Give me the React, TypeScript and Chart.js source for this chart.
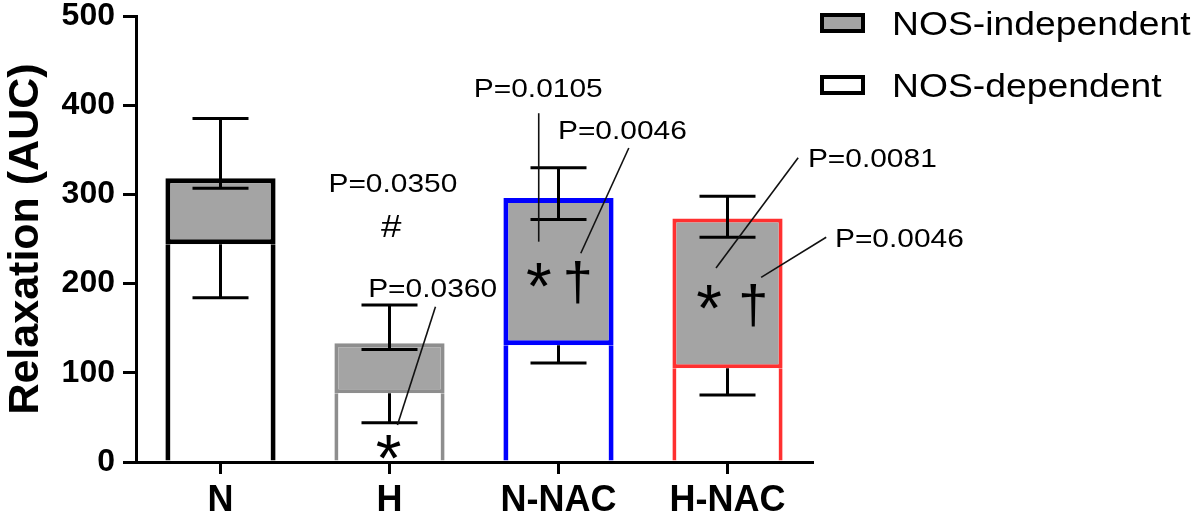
import React, { useEffect, useRef } from 'react';
import { Chart, registerables } from 'chart.js';

Chart.register(...registerables);

// ---------- data ----------
const categories = ['N', 'H', 'N-NAC', 'H-NAC'];
const seriesLabels = ['NOS-independent', 'NOS-dependent'];
const nosDependent = [244, 77, 131, 105];
const nosIndependent = [74, 56, 165, 168];
const errUpperCap = [385, 176, 330, 298];
const errMidCap = [307, 126, 272, 252];
const errLowerCap = [184, 44, 111, 75];
const yAxisTitle = 'Relaxation (AUC)';
const yMin = 0;
const yMax = 500;
const yStep = 100;

// P-value labels (x = category index, y = axis value)
const pLabels = ['P=0.0350', 'P=0.0360', 'P=0.0105', 'P=0.0046', 'P=0.0081', 'P=0.0046'];
const pLabelX = [1.02, 1.255, 1.88, 2.378, 3.857, 4.017];
const pLabelY = [313, 195, 419, 372, 341, 251];
// significance marks
const markSymbols = ['#', '*', '*', '†', '*', '†'];
const markX = [1.01, 0.994, 1.883, 2.114, 2.891, 3.152];
const markY = [265, 17, 210, 201, 185, 176];
// leader lines
const leaderX1 = [1.272, 1.883, 2.416, 3.418, 3.584];
const leaderY1 = [174, 391, 352, 341, 252];
const leaderX2 = [1.047, 1.883, 2.132, 2.932, 3.199];
const leaderY2 = [41.5, 247, 234, 217.5, 207];

// ---------- styles ----------
const FONT = "'Liberation Sans', Arial, sans-serif";
const barBorderColors = ['#000000', '#8e8e8e', '#0000ff', '#ff3030'];
const barBorderWidths = [5, 4, 5, 4];
const greyFill = '#a4a4a4';
const textStretch = 1.15;

function drawInkCentered(ctx: CanvasRenderingContext2D, text: string, x: number, y: number, font: string, stretch: number) {
  ctx.save();
  ctx.font = font;
  ctx.textAlign = 'center';
  ctx.textBaseline = 'alphabetic';
  const m = ctx.measureText(text);
  const asc = m.actualBoundingBoxAscent;
  const desc = m.actualBoundingBoxDescent;
  ctx.translate(x, y + (asc - desc) / 2);
  ctx.scale(stretch, 1);
  ctx.fillStyle = '#000';
  ctx.fillText(text, 0, 0);
  ctx.restore();
}

const overlayPlugin = {
  id: 'overlay',
  afterDatasetsDraw(chart: any) {
    const ctx: CanvasRenderingContext2D = chart.ctx;
    const xs = chart.scales.x;
    const ys = chart.scales.y;
    const px = (v: number) => xs.getPixelForValue(v);
    const py = (v: number) => ys.getPixelForValue(v);

    // error bars
    ctx.save();
    ctx.strokeStyle = '#000';
    ctx.lineWidth = 3;
    ctx.lineCap = 'butt';
    const capHalf = 28;
    categories.forEach((_, i) => {
      const x = px(i);
      const yU = py(errUpperCap[i]);
      const yM = py(errMidCap[i]);
      const yW = py(nosDependent[i]);
      const yL = py(errLowerCap[i]);
      ctx.beginPath();
      ctx.moveTo(x, yU); ctx.lineTo(x, yM);
      ctx.moveTo(x - capHalf, yU); ctx.lineTo(x + capHalf, yU);
      ctx.moveTo(x - capHalf, yM); ctx.lineTo(x + capHalf, yM);
      ctx.moveTo(x, yW); ctx.lineTo(x, yL);
      ctx.moveTo(x - capHalf, yL); ctx.lineTo(x + capHalf, yL);
      ctx.stroke();
    });
    ctx.restore();

    // leader lines
    ctx.save();
    ctx.strokeStyle = '#111';
    ctx.lineWidth = 1.6;
    leaderX1.forEach((_, i) => {
      ctx.beginPath();
      ctx.moveTo(px(leaderX1[i]), py(leaderY1[i]));
      ctx.lineTo(px(leaderX2[i]), py(leaderY2[i]));
      ctx.stroke();
    });
    ctx.restore();

    // P labels
    pLabels.forEach((t, i) => {
      drawInkCentered(ctx, t, px(pLabelX[i]), py(pLabelY[i]), `26px ${FONT}`, textStretch);
    });
    // marks
    markSymbols.forEach((s, i) => {
      const size = s === '#' ? 32 : s === '†' ? 54 : 66;
      drawInkCentered(ctx, s, px(markX[i]), py(markY[i]), `${size}px ${FONT}`, s === '#' ? textStretch : 1);
    });

    // legend boxes
    const area = chart.chartArea;
    const fills = [greyFill, '#ffffff'];
    ctx.save();
    seriesLabels.forEach((_, i) => {
      const cy = area.top + 7 + i * 62;
      const bx = area.right + 8;
      ctx.fillStyle = '#000';
      ctx.fillRect(bx, cy - 10, 45, 20);
      ctx.fillStyle = fills[i];
      ctx.fillRect(bx + 4, cy - 6, 37, 12);
    });
    ctx.restore();
  },
};

// Legend text drawn left aligned
const legendTextPlugin = {
  id: 'legendText',
  afterDraw(chart: any) {
    const ctx: CanvasRenderingContext2D = chart.ctx;
    const area = chart.chartArea;
    seriesLabels.forEach((lab, i) => {
      const cy = area.top + 7 + i * 62;
      ctx.save();
      ctx.font = `33px ${FONT}`;
      ctx.textAlign = 'left';
      ctx.textBaseline = 'alphabetic';
      const m = ctx.measureText('NOS');
      ctx.translate(area.right + 80, cy + m.actualBoundingBoxAscent / 2);
      ctx.scale(1.13, 1);
      ctx.fillStyle = '#000';
      ctx.fillText(lab, 0, 0);
      ctx.restore();
    });
  },
};

export default function App() {
  const ref = useRef<HTMLCanvasElement | null>(null);
  useEffect(() => {
    if (!ref.current) return;
    Chart.defaults.font.family = FONT;
    const chart = new Chart(ref.current, {
      type: 'bar',
      data: {
        labels: categories,
        datasets: [
          {
            label: seriesLabels[1],
            data: nosDependent,
            backgroundColor: '#ffffff',
            borderColor: barBorderColors,
            borderWidth: (c: any) => {
              const w = barBorderWidths[c.dataIndex] ?? 4;
              return { top: 0, bottom: 0, left: w, right: w };
            },
            borderSkipped: false,
            barPercentage: 0.652,
            categoryPercentage: 1,
            stack: 's',
          } as any,
          {
            label: seriesLabels[0],
            data: nosIndependent,
            backgroundColor: greyFill,
            borderColor: barBorderColors,
            borderWidth: (c: any) => {
              const w = barBorderWidths[c.dataIndex] ?? 4;
              return { top: w, bottom: w, left: w, right: w };
            },
            borderSkipped: false,
            barPercentage: 0.652,
            categoryPercentage: 1,
            stack: 's',
          } as any,
        ],
      },
      options: {
        animation: false,
        responsive: false,
        events: [],
        layout: { padding: { top: 16, right: 388, bottom: 0, left: 0 } },
        plugins: {
          legend: { display: false },
          tooltip: { enabled: false },
          title: { display: false },
        },
        scales: {
          x: {
            stacked: true,
            afterFit: (s: any) => { s.height = 60; },
            grid: {
              display: true,
              drawOnChartArea: false,
              drawTicks: true,
              tickLength: 12,
              lineWidth: 3,
              color: '#000',
              offset: false,
            },
            border: { display: true, width: 3, color: '#000' },
            ticks: {
              color: '#000',
              font: { size: 36, weight: 'bold' },
              padding: 5,
              autoSkip: false,
              maxRotation: 0,
            },
          },
          y: {
            stacked: true,
            min: yMin,
            max: yMax,
            afterFit: (s: any) => { s.width = 136; },
            grid: {
              display: true,
              drawOnChartArea: false,
              drawTicks: true,
              tickLength: 13,
              lineWidth: 3,
              color: '#000',
            },
            border: { display: true, width: 3, color: '#000' },
            ticks: {
              stepSize: yStep,
              color: '#000',
              font: { size: 32, weight: 'bold', lineHeight: 0.5 },
              padding: 8,
            },
            title: {
              display: true,
              text: yAxisTitle,
              color: '#000',
              font: { size: 43, weight: 'bold' },
              padding: 0,
            },
          },
        },
      } as any,
      plugins: [overlayPlugin, legendTextPlugin],
    });
    return () => chart.destroy();
  }, []);
  return (
    <div style={{ position: 'fixed', left: 0, top: 0, width: 1200, height: 522, background: '#fff' }}>
      <canvas ref={ref} width={1200} height={522} style={{ display: 'block' }} />
    </div>
  );
}
